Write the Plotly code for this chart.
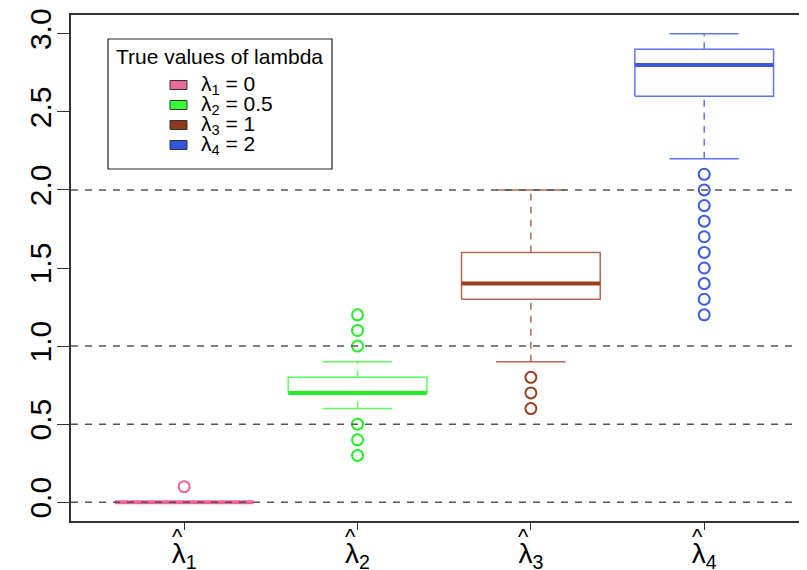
import plotly.graph_objects as go

# ---------------- data ----------------
categories = [1, 2, 3, 4]
tick_labels = ["λ<sub>1</sub>", "λ<sub>2</sub>", "λ<sub>3</sub>", "λ<sub>4</sub>"]
tick_hat = "^"
q1 = [0.0, 0.7, 1.3, 2.6]
median = [0.0, 0.7, 1.4, 2.8]
q3 = [0.0, 0.8, 1.6, 2.9]
whisker_low = [0.0, 0.6, 0.9, 2.2]
whisker_high = [0.0, 0.9, 2.0, 3.0]
outliers_1 = [0.1]
outliers_2 = [0.3, 0.4, 0.5, 1.0, 1.1, 1.2]
outliers_3 = [0.6, 0.7, 0.8]
outliers_4 = [1.2, 1.3, 1.4, 1.5, 1.6, 1.7, 1.8, 1.9, 2.0, 2.1]
outliers = [outliers_1, outliers_2, outliers_3, outliers_4]
ref_lines = [0.0, 0.5, 1.0, 2.0]
y_ticks = [0.0, 0.5, 1.0, 1.5, 2.0, 2.5, 3.0]
y_tick_text = ["0.0", "0.5", "1.0", "1.5", "2.0", "2.5", "3.0"]
legend_title = "True values of lambda"
legend_labels = ["λ<sub>1</sub> = 0", "λ<sub>2</sub> = 0.5", "λ<sub>3</sub> = 1", "λ<sub>4</sub> = 2"]

# ---------------- style ----------------
border_cols = ["#F27AA6", "#5CFF5C", "#B46A4E", "#5A78EE"]
median_cols = ["#EE6296", "#22F022", "#9A3F22", "#3A5BE0"]
legend_fill = ["#E8699A", "#33FF33", "#8B3A1E", "#3355DD"]
FONT = "Liberation Sans, Arial, Helvetica, sans-serif"
HALF = 0.4
CAP = 0.2
PAGE_OFF = 8  # default body margin of the html page

fig = go.Figure()
for i, c in enumerate(categories):
    bc, mc = border_cols[i], median_cols[i]
    fig.add_trace(go.Scatter(x=[c - HALF, c + HALF, c + HALF, c - HALF, c - HALF],
                             y=[q1[i], q1[i], q3[i], q3[i], q1[i]], mode="lines",
                             line=dict(color=bc, width=1.5), showlegend=False, hoverinfo="skip"))
    fig.add_trace(go.Scatter(x=[c, c], y=[q3[i], whisker_high[i]], mode="lines",
                             line=dict(color=bc, width=1.5, dash="7px,6px"), showlegend=False, hoverinfo="skip"))
    fig.add_trace(go.Scatter(x=[c, c], y=[whisker_low[i], q1[i]], mode="lines",
                             line=dict(color=bc, width=1.5, dash="7px,6px"), showlegend=False, hoverinfo="skip"))
    for w in (whisker_low[i], whisker_high[i]):
        fig.add_trace(go.Scatter(x=[c - CAP, c + CAP], y=[w, w], mode="lines",
                                 line=dict(color=bc, width=1.5), showlegend=False, hoverinfo="skip"))
    fig.add_trace(go.Scatter(x=[c - HALF, c + HALF], y=[median[i], median[i]], mode="lines",
                             line=dict(color=mc, width=4), showlegend=False, hoverinfo="skip"))
    fig.add_trace(go.Scatter(x=[c] * len(outliers[i]), y=outliers[i], mode="markers",
                             marker=dict(symbol="circle-open", size=11, color=mc, line=dict(width=2)),
                             showlegend=False, hoverinfo="skip"))

for v in ref_lines:
    fig.add_shape(type="line", xref="paper", x0=0, x1=1, yref="y", y0=v, y1=v,
                  line=dict(color="#555555", width=1.5, dash="7px,7px"), layer="above")

# plot area in page pixels: x 71..807, y 15..521
L_W, L_T = 71, 15
PW, PH = 736, 506
def px(x):
    return (x - L_W) / PW
def py(y):
    return 1 - (y - L_T) / PH

for c in categories:
    fig.add_annotation(xref="x", yref="paper", x=c - 0.04, y=py(536), text=tick_hat, showarrow=False,
                       font=dict(family=FONT, size=22, color="black"), xanchor="center", yanchor="middle")

fig.add_shape(type="rect", xref="paper", yref="paper", x0=px(108), x1=px(332), y0=py(169), y1=py(39),
              line=dict(color="#222222", width=1.2), fillcolor="white", layer="above")
fig.add_annotation(xref="paper", yref="paper", x=px(219), y=py(57), text=legend_title, showarrow=False,
                   font=dict(family=FONT, size=21, color="black"), xanchor="center", yanchor="middle")
for k, lab in enumerate(legend_labels):
    cy = 85 + 20 * k
    fig.add_shape(type="rect", xref="paper", yref="paper", x0=px(170), x1=px(187), y0=py(cy + 4.5), y1=py(cy - 4.5),
                  line=dict(color="#333333", width=1), fillcolor=legend_fill[k], layer="above")
    fig.add_annotation(xref="paper", yref="paper", x=px(199), y=py(cy), text=lab, showarrow=False,
                       font=dict(family=FONT, size=21, color="black"), xanchor="left", yanchor="middle")

fig.update_layout(
    width=807 - PAGE_OFF, height=570 - PAGE_OFF,
    margin=dict(l=L_W - PAGE_OFF, r=0, t=L_T - PAGE_OFF, b=49, autoexpand=False),
    plot_bgcolor="white", paper_bgcolor="white",
    showlegend=False,
    font=dict(family=FONT, color="black"),
)
fig.update_xaxes(range=[0.347, 4.593], tickvals=categories, ticktext=tick_labels, automargin=False,
                 ticks="outside", ticklen=7, tickwidth=1.3, tickcolor="#333333",
                 showline=True, linecolor="#333333", linewidth=1.5, mirror=True,
                 showgrid=False, zeroline=False, tickfont=dict(family=FONT, size=28))
fig.update_yaxes(range=[-0.12, 3.12], tickvals=y_ticks, ticktext=y_tick_text, tickangle=-90, automargin=False,
                 ticks="outside", ticklen=12, tickwidth=1.3, tickcolor="#333333", ticklabelstandoff=-6,
                 showline=True, linecolor="#333333", linewidth=1.5,
                 showgrid=False, zeroline=False, tickfont=dict(family=FONT, size=30))

fig.write_html("out.html")
